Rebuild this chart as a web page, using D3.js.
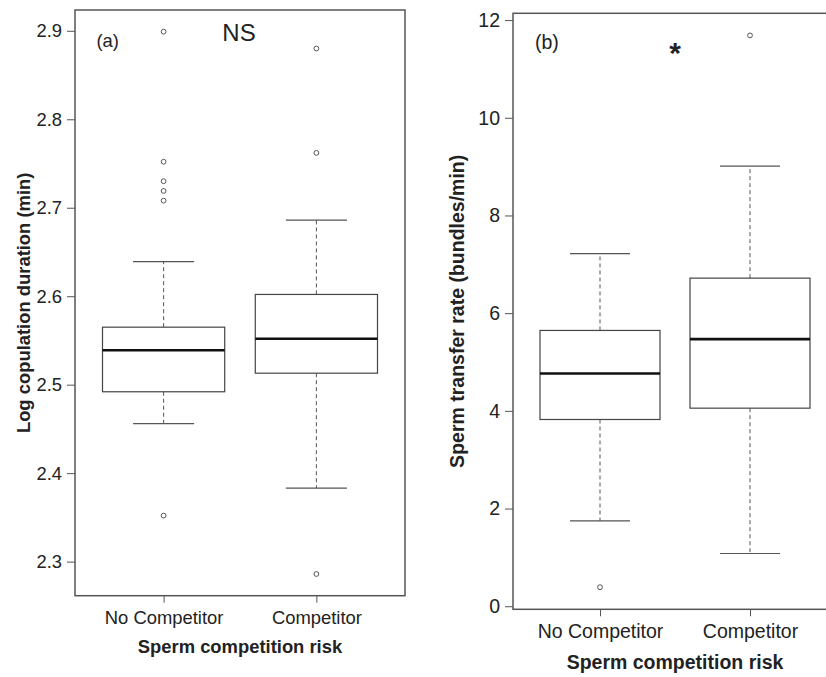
<!DOCTYPE html>
<html>
<head>
<meta charset="utf-8">
<script src="https://cdn.jsdelivr.net/npm/d3@7"></script>
<style>
  body { margin: 0; background: #fff; }
  svg text { font-family: "Liberation Sans", Arial, sans-serif; fill: #222; }
</style>
</head>
<body>
<div id="chart"></div>
<script>
// groups on the x axis
const groups = ['No Competitor', 'Competitor'];

// (a) log copulation duration (min)
const durLowerWhisker = [2.456, 2.383];
const durQ1 = [2.492, 2.513];
const durMedian = [2.539, 2.552];
const durQ3 = [2.565, 2.602];
const durUpperWhisker = [2.639, 2.686];
const durOutliers = [[2.899, 2.752, 2.730, 2.719, 2.708, 2.352], [2.880, 2.762, 2.286]];
const durTicks = [2.3, 2.4, 2.5, 2.6, 2.7, 2.8, 2.9];

// (b) sperm transfer rate (bundles/min)
const rateLowerWhisker = [1.749, 1.079];
const rateQ1 = [3.823, 4.055];
const rateMedian = [4.766, 5.468];
const rateQ3 = [5.646, 6.717];
const rateUpperWhisker = [7.22, 9.011];
const rateOutliers = [[0.389], [11.687]];
const rateTicks = [0, 2, 4, 6, 8, 10, 12];

const svg = d3.select('#chart')
  .append('svg')
  .attr('width', 826)
  .attr('height', 677);

function buildStats(lo, q1, med, q3, hi, out) {
  return groups.map((g, i) => ({
    group: g, lo: lo[i], q1: q1[i], med: med[i], q3: q3[i], hi: hi[i], out: out[i]
  }));
}

function drawPanel(opts) {
  const stats = opts.stats;
  const fs = opts.fontSize;

  // R style 4% padding around the data range
  const allVals = stats.flatMap(d => [d.lo, d.hi, ...d.out]);
  const [vmin, vmax] = d3.extent(allVals);
  const pad = (vmax - vmin) * 0.04;

  const y = d3.scaleLinear()
    .domain([vmin - pad, vmax + pad])
    .range([opts.bottom, opts.top]);

  const x = d3.scalePoint()
    .domain(groups)
    .range([opts.left, opts.right])
    .padding(0.58);

  const step = x.step();
  const boxW = step * 0.8;
  const capW = step * 0.4;

  const g = svg.append('g');

  // y axis
  const yAxis = g.append('g')
    .attr('transform', `translate(${opts.left},0)`)
    .call(d3.axisLeft(y).tickValues(opts.ticks).tickFormat(opts.tickFormat).tickSize(8).tickPadding(5).tickSizeOuter(0));
  yAxis.select('.domain').remove();
  yAxis.selectAll('line').attr('stroke', '#555');
  yAxis.selectAll('text').style('font-size', fs + 'px').attr('fill', '#222');

  // x axis
  const xAxis = g.append('g')
    .attr('transform', `translate(0,${opts.bottom})`)
    .call(d3.axisBottom(x).tickSize(7).tickPadding(8).tickSizeOuter(0));
  xAxis.select('.domain').remove();
  xAxis.selectAll('line').attr('stroke', '#555');
  xAxis.selectAll('text').style('font-size', fs + 'px').attr('fill', '#222');

  const box = g.selectAll('.box')
    .data(stats)
    .enter()
    .append('g')
    .attr('class', 'box');

  // dashed whiskers
  box.append('line')
    .attr('x1', d => x(d.group)).attr('x2', d => x(d.group))
    .attr('y1', d => y(d.q3)).attr('y2', d => y(d.hi))
    .attr('stroke', '#555').attr('stroke-dasharray', '4,3');
  box.append('line')
    .attr('x1', d => x(d.group)).attr('x2', d => x(d.group))
    .attr('y1', d => y(d.q1)).attr('y2', d => y(d.lo))
    .attr('stroke', '#555').attr('stroke-dasharray', '4,3');

  // staples
  ['lo', 'hi'].forEach(k => {
    box.append('line')
      .attr('x1', d => x(d.group) - capW / 2).attr('x2', d => x(d.group) + capW / 2)
      .attr('y1', d => y(d[k])).attr('y2', d => y(d[k]))
      .attr('stroke', '#555').attr('stroke-width', 1.2);
  });

  box.append('rect')
    .attr('x', d => x(d.group) - boxW / 2)
    .attr('y', d => y(d.q3))
    .attr('width', boxW)
    .attr('height', d => y(d.q1) - y(d.q3))
    .attr('fill', '#fff')
    .attr('stroke', '#444')
    .attr('stroke-width', 1.2);

  box.append('line')
    .attr('x1', d => x(d.group) - boxW / 2).attr('x2', d => x(d.group) + boxW / 2)
    .attr('y1', d => y(d.med)).attr('y2', d => y(d.med))
    .attr('stroke', '#111').attr('stroke-width', 2.6);

  box.selectAll('circle')
    .data(d => d.out.map(v => ({ group: d.group, v: v })))
    .enter()
    .append('circle')
    .attr('cx', d => x(d.group))
    .attr('cy', d => y(d.v))
    .attr('r', 2.4)
    .attr('fill', 'none')
    .attr('stroke', '#555')
    .attr('stroke-width', 1);

  // frame
  g.append('rect')
    .attr('x', opts.left).attr('y', opts.top)
    .attr('width', opts.right - opts.left)
    .attr('height', opts.bottom - opts.top)
    .attr('fill', 'none')
    .attr('stroke', '#555')
    .attr('stroke-width', 1.5);

  // axis titles
  g.append('text')
    .attr('x', (opts.left + opts.right) / 2)
    .attr('y', opts.xTitleY)
    .attr('dy', '0.35em')
    .attr('text-anchor', 'middle')
    .style('font-size', fs + 'px')
    .style('font-weight', 'bold')
    .text('Sperm competition risk');

  g.append('text')
    .attr('transform', `translate(${opts.yTitleX},${(opts.top + opts.bottom) / 2}) rotate(-90)`)
    .attr('dy', '0.35em')
    .attr('text-anchor', 'middle')
    .style('font-size', fs + 'px')
    .style('font-weight', 'bold')
    .text(opts.yTitle);

  // panel letter
  g.append('text')
    .attr('x', opts.letterX)
    .attr('y', opts.letterY)
    .attr('dy', '0.35em')
    .style('font-size', fs + 'px')
    .text(opts.letter);

  // significance mark
  g.append('text')
    .attr('x', opts.sigX)
    .attr('y', opts.sigY)
    .attr('dy', '0.35em')
    .attr('text-anchor', 'middle')
    .style('font-size', opts.sigSize + 'px')
    .style('font-weight', opts.sigWeight)
    .text(opts.sig);
}

drawPanel({
  stats: buildStats(durLowerWhisker, durQ1, durMedian, durQ3, durUpperWhisker, durOutliers),
  ticks: durTicks,
  tickFormat: d3.format('.1f'),
  left: 75, right: 405, top: 10, bottom: 595.7,
  fontSize: 18.4,
  xTitleY: 647,
  yTitleX: 24,
  yTitle: 'Log copulation duration (min)',
  letter: '(a)', letterX: 96.5, letterY: 41,
  sig: 'NS', sigX: 239, sigY: 33, sigSize: 24, sigWeight: 'normal'
});

drawPanel({
  stats: buildStats(rateLowerWhisker, rateQ1, rateMedian, rateQ3, rateUpperWhisker, rateOutliers),
  ticks: rateTicks,
  tickFormat: d3.format('d'),
  left: 513, right: 837, top: 13.3, bottom: 609.3,
  fontSize: 19.5,
  xTitleY: 662,
  yTitleX: 457,
  yTitle: 'Sperm transfer rate (bundles/min)',
  letter: '(b)', letterX: 535, letterY: 42,
  sig: '*', sigX: 675, sigY: 52, sigSize: 30, sigWeight: 'bold'
});
</script>
</body>
</html>
